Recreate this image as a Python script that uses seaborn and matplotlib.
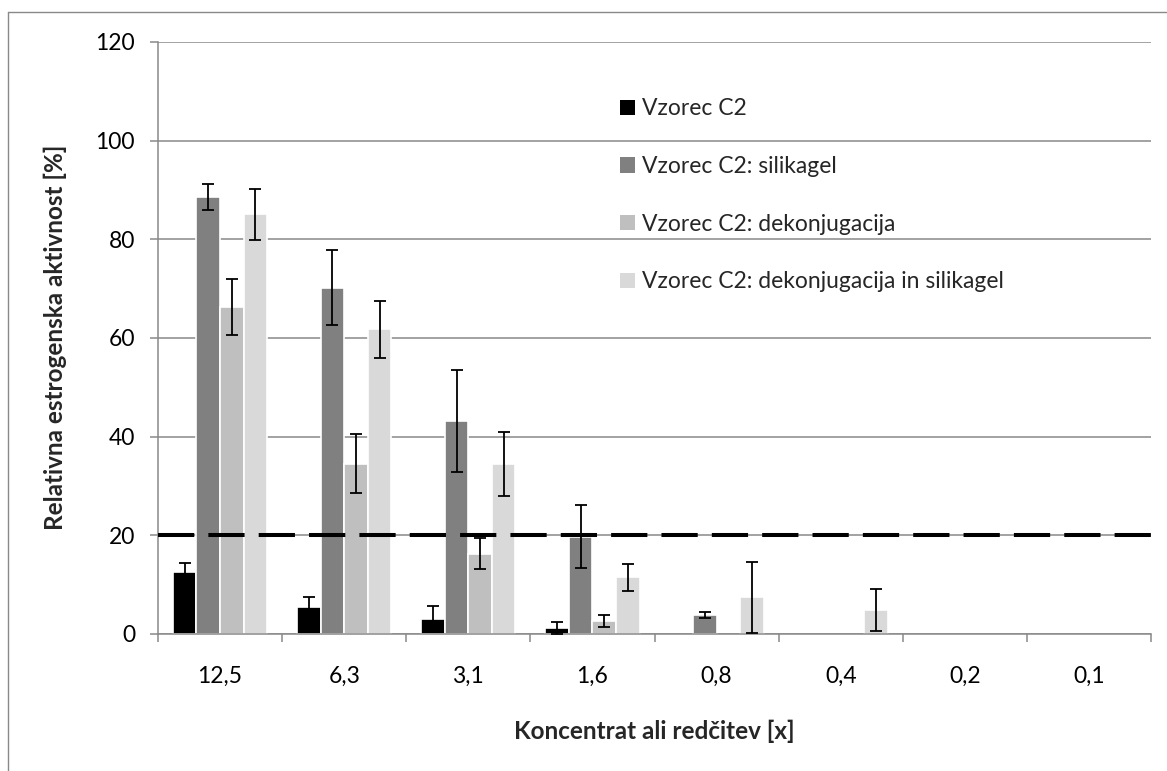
"""
plot.py
=======
Relative estrogenic activity of sample C2 per dilution, grouped bars with
error bars and a dashed 20 % threshold line.
"""

import matplotlib
matplotlib.use("Agg")  # non-interactive backend
import matplotlib.pyplot as plt
import numpy as np
import pandas as pd
import seaborn as sns
from matplotlib.lines import Line2D
from matplotlib.patches import Patch

# ------------------------------------------------------------------------
#  Data
# ------------------------------------------------------------------------

concentrations = ["12,5", "6,3", "3,1", "1,6", "0,8", "0,4", "0,2", "0,1"]
series_names = [
    "Vzorec C2",
    "Vzorec C2: silikagel",
    "Vzorec C2: dekonjugacija",
    "Vzorec C2: dekonjugacija in silikagel",
]

c2_values = [12.6, 5.5, 3.0, 1.2, 0, 0, 0, 0]
c2_err = [1.7, 2.0, 2.6, 1.2, np.nan, np.nan, np.nan, np.nan]

silikagel_values = [88.6, 70.2, 43.2, 19.7, 3.9, 0, 0, 0]
silikagel_err = [2.6, 7.6, 10.3, 6.4, 0.6, np.nan, np.nan, np.nan]

dekonj_values = [66.3, 34.5, 16.3, 2.6, 0, 0, 0, 0]
dekonj_err = [5.7, 6.0, 3.2, 1.2, np.nan, np.nan, np.nan, np.nan]

dekonj_sil_values = [85.1, 61.8, 34.4, 11.5, 7.4, 4.9, 0, 0]
dekonj_sil_err = [5.2, 5.8, 6.5, 2.7, 7.1, 4.2, np.nan, np.nan]

threshold = 20

colors = ["#000000", "#808080", "#BFBFBF", "#D9D9D9"]

# ------------------------------------------------------------------------
#  Long-form table for seaborn
# ------------------------------------------------------------------------

all_values = [c2_values, silikagel_values, dekonj_values, dekonj_sil_values]
all_errors = [c2_err, silikagel_err, dekonj_err, dekonj_sil_err]

rows = []
for name, vals in zip(series_names, all_values):
    for conc, v in zip(concentrations, vals):
        rows.append({"Koncentrat": conc, "Vzorec": name, "Vrednost": v})
df = pd.DataFrame(rows)

# ------------------------------------------------------------------------
#  Plot
# ------------------------------------------------------------------------

sns.set_theme(style="white")
plt.rcParams["font.family"] = ["Lato", "DejaVu Sans"]

GRID = "#898989"
TICK_FS = 16.5
LABEL_FS = 17.5

fig = plt.figure(figsize=(11.67, 7.71), dpi=100)
ax = fig.add_axes([158 / 1167, 1 - 634 / 771, 993 / 1167, 592 / 771])

sns.barplot(
    data=df, x="Koncentrat", y="Vrednost", hue="Vzorec",
    order=concentrations, hue_order=series_names, palette=colors,
    errorbar=None, width=0.76, edgecolor="white", linewidth=1.2,
    saturation=1, ax=ax, zorder=2,
)

# error bars at the bar centres; no white outline on empty bars
for container, errs in zip(ax.containers, all_errors):
    for bar, e in zip(container, errs):
        if bar.get_height() == 0:
            bar.set_linewidth(0)
        if np.isnan(e):
            continue
        xc = bar.get_x() + bar.get_width() / 2
        ax.errorbar(xc, bar.get_height(), yerr=e, fmt="none", ecolor="black",
                    elinewidth=1.3, capsize=4.5, capthick=1.3, zorder=4)

# dashed threshold line
ax.axhline(threshold, color="black", linewidth=2.9, dashes=(9, 3.5), zorder=5)

# axes styling
ax.set_xlim(-0.5, len(concentrations) - 0.5)
ax.set_ylim(0, 120)
ax.set_yticks(np.arange(0, 121, 20))
ax.yaxis.grid(True, color=GRID, linewidth=1.1, zorder=0)
ax.set_axisbelow(True)
for side in ["top", "right"]:
    ax.spines[side].set_visible(False)
for side in ["left", "bottom"]:
    ax.spines[side].set_color(GRID)
    ax.spines[side].set_linewidth(1.1)

ax.tick_params(axis="y", which="major", length=5.5, width=1.1, color=GRID,
               direction="out", left=True, pad=11, labelsize=TICK_FS,
               labelcolor="black")
ax.tick_params(axis="x", which="major", length=0, pad=23, labelsize=TICK_FS,
               labelcolor="black")
ax.set_xticks(np.arange(-0.5, len(concentrations)), minor=True)
ax.tick_params(axis="x", which="minor", length=6, width=1.1, color=GRID,
               direction="out", bottom=True)

ax.set_xlabel("Koncentrat ali redčitev [x]", fontsize=LABEL_FS, fontweight="bold")
ax.set_ylabel("Relativna estrogenska aktivnost [%]", fontsize=LABEL_FS,
              fontweight="bold")
ax.xaxis.set_label_coords(0.5, -0.145)
ax.yaxis.set_label_coords(-0.0916, 0.502)

# legend without frame, square markers
ax.get_legend().remove()
handles = [Patch(facecolor=c, edgecolor="none") for c in colors]
fig.legend(handles, series_names, loc="upper left",
           bbox_to_anchor=(609 / 1167, 1 - 87 / 771), frameon=False,
           fontsize=TICK_FS, handlelength=0.65, handleheight=0.65,
           handletextpad=0.3, labelspacing=1.6, borderpad=0)

# chart-area border (cropped on right/bottom in the reference)
border_kw = dict(color=GRID, linewidth=1.0, transform=fig.transFigure)
fig.add_artist(Line2D([8 / 1167, 1.0], [1 - 12 / 771] * 2, **border_kw))
fig.add_artist(Line2D([8 / 1167] * 2, [0.0, 1 - 12 / 771], **border_kw))

fig.savefig("out.png", dpi=100)
plt.close(fig)
